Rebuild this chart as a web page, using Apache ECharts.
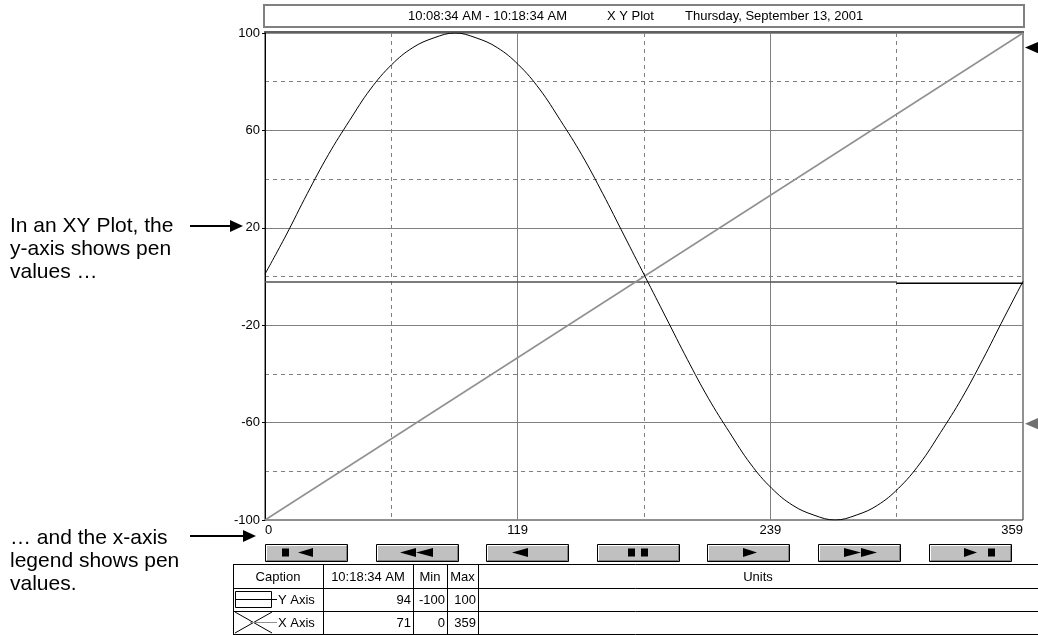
<!DOCTYPE html>
<html lang="en" style="height: 100%">
<head>
<meta charset="utf-8">
<title>X Y Plot</title>
</head>
<body style="height: 100%; margin: 0; background: #fff">
<div id="container" style="width: 1038px; height: 635px"></div>

<script type="text/javascript" src="https://cdn.jsdelivr.net/npm/echarts@6/dist/echarts.min.js"></script>

<script type="text/javascript">

// header strings
var headerTexts = ['10:08:34 AM - 10:18:34 AM', 'X Y Plot', 'Thursday, September 13, 2001'];

// Y Axis pen (sine shape)
var sineX = [0, 10, 20, 30, 40, 50, 60, 70, 80, 90, 100, 110, 120, 130, 140, 150, 160, 170, 180,
             190, 200, 210, 220, 230, 240, 250, 260, 270, 280, 290, 300, 310, 320, 330, 340, 350, 359];
var sineY = [1, 17, 34, 50, 64, 77, 87, 94, 98, 100, 98, 94, 87, 77, 64, 50, 34, 17, 0,
             -17, -34, -50, -64, -77, -87, -94, -98, -100, -98, -94, -87, -77, -64, -50, -34, -17, -2];

// X Axis pen plotted against the value scale
var diagX = [0, 359];
var diagY = [-100, 100];

// flat trace just under zero (older part gray, latest part black)
var flatOldX = [0, 299];
var flatOldY = [-2.3, -2.3];
var flatNewX = [299, 359];
var flatNewY = [-2.8, -2.8];

var xTickLabels = ['0', '119', '239', '359'];

// legend table
var tableHeader = ['Caption', '10:18:34 AM', 'Min', 'Max', 'Units'];
var penNames = ['Y Axis', 'X Axis'];
var penCurrent = [94, 71];
var penMin = [-100, 0];
var penMax = [100, 359];

// side notes
var noteY = ['In an XY Plot, the', 'y-axis shows pen', 'values \u2026'];
var noteX = ['\u2026 and the x-axis', 'legend shows pen', 'values.'];

var FONT = '"Liberation Sans", Arial, sans-serif';
var SMALL = '13px ' + FONT;

var dom = document.getElementById('container');
var myChart = echarts.init(dom);

function zip(xs, ys) {
    return xs.map(function (x, i) { return [x, ys[i]]; });
}

var option = {
    animation: false,
    backgroundColor: '#fff',
    textStyle: { fontFamily: FONT },
    grid: {
        left: 265,
        right: 15,
        top: 33,
        bottom: 115,
        show: true,
        borderColor: '#222',
        borderWidth: 1
    },
    xAxis: {
        type: 'value',
        min: 0,
        max: 359,
        interval: 359 / 3,
        axisLine: { show: false },
        axisTick: { show: false },
        axisLabel: {
            color: '#000',
            fontSize: 13,
            fontFamily: FONT,
            margin: 4,
            alignMinLabel: 'left',
            alignMaxLabel: 'right',
            formatter: function (v) { return xTickLabels[Math.round(v / (359 / 3))]; }
        },
        splitLine: { show: true, showMinLine: false, showMaxLine: false, lineStyle: { color: '#808080', width: 1 } },
        minorTick: { show: false, splitNumber: 2 },
        minorSplitLine: { show: true, lineStyle: { color: '#808080', width: 1, type: [4, 4] } }
    },
    yAxis: {
        type: 'value',
        min: -100,
        max: 100,
        interval: 40,
        axisLine: { show: true, lineStyle: { color: '#000', width: 1 } },
        axisTick: { show: true, length: 3, inside: false, lineStyle: { color: '#000' } },
        axisLabel: { color: '#000', fontSize: 13, fontFamily: FONT, margin: 5 },
        splitLine: { show: true, showMinLine: false, showMaxLine: false, lineStyle: { color: '#808080', width: 1 } },
        minorTick: { show: false, splitNumber: 2 },
        minorSplitLine: { show: true, lineStyle: { color: '#808080', width: 1, type: [4, 4] } }
    },
    series: [
        {
            name: 'flat old',
            type: 'line',
            data: zip(flatOldX, flatOldY),
            symbol: 'none',
            lineStyle: { color: '#505050', width: 1.5 },
            z: 3
        },
        {
            name: 'flat new',
            type: 'line',
            data: zip(flatNewX, flatNewY),
            symbol: 'none',
            lineStyle: { color: '#000', width: 1.5 },
            z: 3
        },
        {
            name: 'X Axis',
            type: 'line',
            data: zip(diagX, diagY),
            symbol: 'none',
            lineStyle: { color: '#909090', width: 1.5 },
            z: 4
        },
        {
            name: 'Y Axis',
            type: 'line',
            data: zip(sineX, sineY),
            symbol: 'none',
            smooth: 0.4,
            lineStyle: { color: '#000', width: 1 },
            z: 5
        }
    ]
};

myChart.setOption(option);

// ---- decorations ----
var g = [];

// header box
g.push({ type: 'rect', shape: { x: 264, y: 5, width: 760, height: 22 },
    style: { fill: '#fff', stroke: '#808080', lineWidth: 2 } });
var headerX = [408, 607, 685];
headerTexts.forEach(function (t, i) {
    g.push({ type: 'text', x: headerX[i], y: 16,
        style: { text: t, font: SMALL, fill: '#000', verticalAlign: 'middle' } });
});
// top border of plot (gray, heavier)
g.push({ type: 'line', shape: { x1: 264, y1: 32, x2: 1024, y2: 32 },
    style: { stroke: '#606060', lineWidth: 2 } });

// side notes with arrows
function note(lines, y0, arrowY, tipX) {
    lines.forEach(function (t, i) {
        g.push({ type: 'text', x: 10, y: y0 + i * 23,
            style: { text: t, font: '21px ' + FONT, fill: '#000', verticalAlign: 'middle' } });
    });
    g.push({ type: 'line', shape: { x1: 190, y1: arrowY, x2: tipX - 10, y2: arrowY },
        style: { stroke: '#000', lineWidth: 2 } });
    g.push({ type: 'polygon', shape: { points: [[tipX, arrowY], [tipX - 13, arrowY - 6], [tipX - 13, arrowY + 6]] },
        style: { fill: '#000' } });
}
note(noteY, 226, 226, 243);
note(noteX, 538, 536, 256);

// pen value markers on the right edge
var yPx = myChart.convertToPixel({ gridIndex: 0 }, [359, penCurrent[0]]);
var xMapped = penMin[0] + (penMax[0] - penMin[0]) * (penCurrent[1] - penMin[1]) / (penMax[1] - penMin[1]);
var xPx = myChart.convertToPixel({ gridIndex: 0 }, [359, xMapped]);
[[yPx, '#000'], [xPx, '#707070']].forEach(function (m) {
    var px = m[0][0] + 2, py = m[0][1];
    g.push({ type: 'polygon', shape: { points: [[px, py], [px + 14, py - 6], [px + 14, py + 6]] },
        style: { fill: m[1] } });
});

// scroll buttons
var btnLeft = [265, 376, 486, 597, 707, 818, 929];
var btnW = 82, btnY = 544, btnH = 17;
function tri(x1, x2, dirLeft) {
    var cy = btnY + 8.5;
    return dirLeft ? { type: 'polygon', shape: { points: [[x1, cy], [x2, cy - 4.5], [x2, cy + 4.5]] }, style: { fill: '#000' } }
                   : { type: 'polygon', shape: { points: [[x2, cy], [x1, cy - 4.5], [x1, cy + 4.5]] }, style: { fill: '#000' } };
}
function sq(x1) {
    return { type: 'rect', shape: { x: x1, y: btnY + 4.5, width: 7, height: 8 }, style: { fill: '#000' } };
}
var icons = [
    function (b) { return [sq(b + 17), tri(b + 33, b + 48, true)]; },
    function (b) { return [tri(b + 24, b + 40, true), tri(b + 40, b + 57, true)]; },
    function (b) { return [tri(b + 26, b + 42, true)]; },
    function (b) { return [sq(b + 31), sq(b + 44)]; },
    function (b) { return [tri(b + 36, b + 50, false)]; },
    function (b) { return [tri(b + 26, b + 43, false), tri(b + 43, b + 59, false)]; },
    function (b) { return [tri(b + 35, b + 48, false), sq(b + 59)]; }
];
btnLeft.forEach(function (b, i) {
    g.push({ type: 'rect', shape: { x: b + 0.5, y: btnY + 0.5, width: btnW, height: btnH },
        style: { fill: '#c0c0c0', stroke: '#000', lineWidth: 1 } });
    g.push({ type: 'polyline', shape: { points: [[b + 1.5, btnY + btnH - 1], [b + 1.5, btnY + 1.5], [b + btnW - 1, btnY + 1.5]] },
        style: { stroke: '#fff', lineWidth: 1, fill: null } });
    g.push({ type: 'polyline', shape: { points: [[b + 2, btnY + btnH - 0.5], [b + btnW - 0.5, btnY + btnH - 0.5], [b + btnW - 0.5, btnY + 2]] },
        style: { stroke: '#808080', lineWidth: 1, fill: null } });
    icons[i](b).forEach(function (e) { g.push(e); });
});

// legend table
var colX = [233, 323, 413, 447, 478, 1038];
var rowY = [564, 588, 611, 634];
rowY.forEach(function (y) {
    g.push({ type: 'line', shape: { x1: colX[0], y1: y + 0.5, x2: 1038, y2: y + 0.5 },
        style: { stroke: '#000', lineWidth: 1 } });
});
colX.slice(0, 5).forEach(function (x) {
    g.push({ type: 'line', shape: { x1: x + 0.5, y1: rowY[0], x2: x + 0.5, y2: rowY[3] },
        style: { stroke: '#000', lineWidth: 1 } });
});
tableHeader.forEach(function (t, i) {
    g.push({ type: 'text', x: (colX[i] + colX[i + 1]) / 2, y: (rowY[0] + rowY[1]) / 2 + 1,
        style: { text: t, font: SMALL, fill: '#000', align: 'center', verticalAlign: 'middle' } });
});
penNames.forEach(function (name, r) {
    var cy = (rowY[r + 1] + rowY[r + 2]) / 2 + 1;
    g.push({ type: 'text', x: 278, y: cy,
        style: { text: name, font: SMALL, fill: '#000', verticalAlign: 'middle' } });
    [penCurrent[r], penMin[r], penMax[r]].forEach(function (v, c) {
        g.push({ type: 'text', x: colX[c + 2] - 2, y: cy,
            style: { text: String(v), font: SMALL, fill: '#000', align: 'right', verticalAlign: 'middle' } });
    });
});
// pen swatches in caption cells
g.push({ type: 'rect', shape: { x: 235.5, y: 591.5, width: 36, height: 16 },
    style: { fill: null, stroke: '#000', lineWidth: 1 } });
g.push({ type: 'line', shape: { x1: 235, y1: 599.5, x2: 277, y2: 599.5 }, style: { stroke: '#000', lineWidth: 1 } });
g.push({ type: 'line', shape: { x1: 235, y1: 612, x2: 272, y2: 633 }, style: { stroke: '#000', lineWidth: 1 } });
g.push({ type: 'line', shape: { x1: 235, y1: 633, x2: 272, y2: 612 }, style: { stroke: '#000', lineWidth: 1 } });
g.push({ type: 'line', shape: { x1: 250, y1: 622.5, x2: 277, y2: 622.5 }, style: { stroke: '#909090', lineWidth: 1 } });

myChart.setOption({ graphic: { elements: g } });

window.addEventListener('resize', myChart.resize);
</script>
</body>
</html>
